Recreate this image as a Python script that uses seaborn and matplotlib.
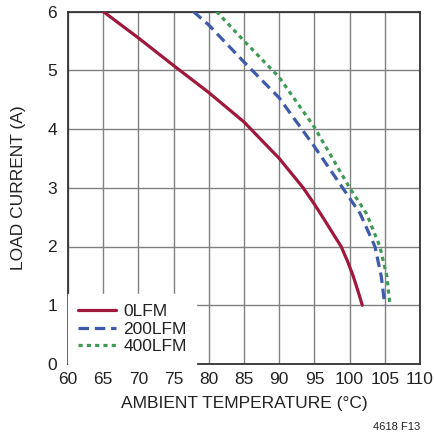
import matplotlib
matplotlib.use("Agg")
import matplotlib.pyplot as plt
import seaborn as sns
import pandas as pd

# ---- data ----
x_0lfm = [65, 70, 75, 80, 85, 88.7, 90, 93.4, 95, 96.5, 97.9, 98.8, 99.7, 100.5, 101.3, 101.8]
y_0lfm = [6.0, 5.55, 5.08, 4.62, 4.12, 3.66, 3.5, 3.0, 2.72, 2.44, 2.17, 2.0, 1.75, 1.5, 1.2, 1.0]

x_200lfm = [77.8, 80, 85, 90, 91.5, 93.2, 95, 99.0, 101.5, 103.6, 104.5, 105.0]
y_200lfm = [6.0, 5.77, 5.14, 4.53, 4.28, 4.0, 3.70, 3.0, 2.56, 2.0, 1.49, 1.0]

x_400lfm = [81.1, 85, 90, 95, 100.0, 102.4, 104.3, 105.3, 105.7, 105.8]
y_400lfm = [6.0, 5.5, 4.88, 4.03, 3.0, 2.56, 2.0, 1.49, 1.04, 1.0]

series_names = ["0LFM", "200LFM", "400LFM"]
x_ticks = [60, 65, 70, 75, 80, 85, 90, 95, 100, 105, 110]
y_ticks = [0, 1, 2, 3, 4, 5, 6]

sns.set_style("white")
plt.rcParams['font.family'] = ['Liberation Sans', 'DejaVu Sans']

fig = plt.figure(figsize=(4.34, 4.37), dpi=100)
ax = fig.add_axes([68/434, 1-364/437, (420-68)/434, (364-11.5)/437])

colors = ["#A0183C", "#3D5BAA", "#3F9A55"]
styles = [dict(linestyle="-"),
          dict(dashes=(3.3, 1.8)),
          dict(dashes=(1.3, 1.3))]
data = [(x_0lfm, y_0lfm), (x_200lfm, y_200lfm), (x_400lfm, y_400lfm)]

for (xs, ys), name, c, st in zip(data, series_names, colors, styles):
    df = pd.DataFrame({"x": xs, "y": ys})
    sns.lineplot(data=df, x="x", y="y", ax=ax, color=c, lw=2.3,
                 label=name, estimator=None, sort=False, zorder=3, **st)

ax.set_xlim(60, 110)
ax.set_ylim(0, 6)
ax.set_xticks(x_ticks)
ax.set_yticks(y_ticks)
ax.grid(True, color="#808080", lw=1.0)
ax.set_axisbelow(True)
for s in ax.spines.values():
    s.set_color("#333333")
    s.set_linewidth(1.3)
ax.tick_params(axis="both", length=0, labelsize=12.5, colors="#222222")
ax.tick_params(axis="x", pad=6)
ax.tick_params(axis="y", pad=8)
ax.set_xlabel("AMBIENT TEMPERATURE (°C)", fontsize=12.5, color="#222222", labelpad=6)
ax.set_ylabel("LOAD CURRENT (A)", fontsize=12.5, color="#222222", labelpad=15)

leg = ax.legend(loc="lower left", borderaxespad=0, frameon=True, fontsize=12.5,
                handlelength=2.2, handletextpad=0.45, labelspacing=0.15,
                borderpad=0.55, fancybox=False)
leg.get_frame().set_facecolor("white")
leg.get_frame().set_edgecolor("white")
leg.get_frame().set_alpha(1)
leg.set_zorder(5)
for t in leg.get_texts():
    t.set_color("#222222")

fig.text(420/434, 1-426.7/437, "4618 F13", ha="right", va="center",
         fontsize=8, color="#222222")

fig.savefig("out.png", dpi=100)
